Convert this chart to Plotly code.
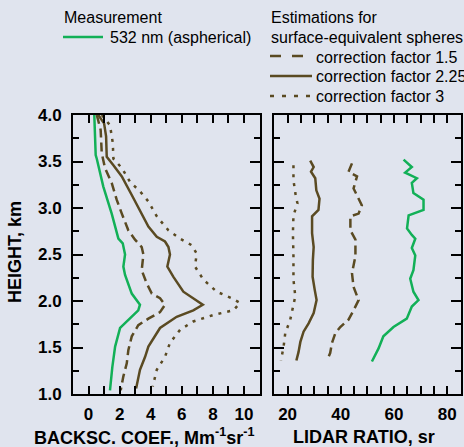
import plotly.graph_objects as go

# ---------------- data ----------------
# Backscatter coefficient (Mm^-1 sr^-1) vs height (km)
bsc_meas_h = [4.0, 3.57, 3.53, 3.23, 2.94, 2.67, 2.62, 2.50, 2.37, 2.28, 2.08, 1.96, 1.90, 1.81, 1.71, 1.51, 1.29, 1.04]
bsc_meas = [0.37, 0.46, 0.53, 0.95, 1.49, 1.92, 2.20, 2.35, 2.24, 2.35, 2.78, 3.31, 3.20, 2.67, 2.03, 1.71, 1.53, 1.38]

bsc_cf15_h = [4.0, 3.84, 3.59, 3.43, 3.27, 3.09, 2.94, 2.76, 2.66, 2.58, 2.50, 2.33, 2.19, 2.08, 2.03, 1.96, 1.88, 1.81, 1.74, 1.62, 1.47, 1.33, 1.19, 1.04]
bsc_cf15 = [0.53, 0.78, 0.85, 1.06, 1.49, 1.81, 2.14, 2.56, 2.99, 3.42, 3.53, 3.42, 3.74, 4.07, 4.60, 4.92, 4.60, 3.85, 3.20, 2.78, 2.56, 2.46, 2.24, 2.07]

bsc_cf225_h = [4.0, 3.91, 3.77, 3.55, 3.46, 3.34, 3.14, 3.01, 2.80, 2.69, 2.64, 2.58, 2.50, 2.37, 2.26, 2.10, 2.03, 1.96, 1.90, 1.83, 1.71, 1.63, 1.51, 1.40, 1.26, 1.06]
bsc_cf225 = [0.63, 1.00, 1.13, 1.17, 1.60, 2.14, 2.78, 3.20, 3.85, 4.39, 4.92, 5.14, 5.24, 5.07, 5.46, 6.10, 6.74, 7.35, 6.74, 5.67, 4.60, 4.28, 3.85, 3.64, 3.31, 3.06]

bsc_cf3_h = [4.0, 3.89, 3.70, 3.53, 3.43, 3.28, 3.18, 3.07, 2.91, 2.76, 2.67, 2.60, 2.51, 2.37, 2.23, 2.10, 2.03, 1.98, 1.90, 1.85, 1.78, 1.69, 1.55, 1.40, 1.26, 1.08]
bsc_cf3 = [0.85, 1.38, 1.56, 1.60, 2.14, 2.67, 3.31, 3.85, 4.39, 5.14, 5.89, 6.64, 6.96, 6.85, 7.39, 8.25, 9.21, 9.75, 9.32, 8.03, 6.74, 5.89, 5.24, 4.92, 4.39, 4.13]

# Lidar ratio (sr) vs height (km)
lr_meas_h = [3.52, 3.44, 3.38, 3.32, 3.27, 3.16, 3.09, 2.98, 2.92, 2.78, 2.71, 2.67, 2.57, 2.49, 2.33, 2.24, 2.10, 2.01, 1.94, 1.81, 1.72, 1.62, 1.49, 1.35]
lr_meas = [63.6, 66.7, 64.2, 68.6, 66.7, 67.3, 71.1, 71.1, 65.5, 64.9, 66.7, 68.0, 66.7, 68.0, 67.3, 66.1, 67.3, 69.2, 66.7, 64.8, 59.8, 56.0, 54.2, 51.7]

lr_cf15_h = [3.48, 3.39, 3.34, 3.21, 3.10, 3.03, 2.94, 2.91, 2.76, 2.66, 2.48, 2.30, 2.15, 2.05, 2.01, 1.90, 1.80, 1.72, 1.65, 1.55, 1.44, 1.36]
lr_cf15 = [44.2, 42.9, 46.1, 44.8, 46.7, 47.9, 46.7, 43.6, 43.6, 45.5, 45.5, 44.2, 44.8, 46.1, 46.7, 44.8, 42.9, 39.8, 37.9, 36.7, 36.0, 34.8]

lr_cf225_h = [3.51, 3.44, 3.39, 3.32, 3.19, 3.10, 2.98, 2.91, 2.73, 2.58, 2.44, 2.26, 2.12, 2.01, 1.87, 1.76, 1.67, 1.56, 1.45, 1.36]
lr_cf225 = [28.5, 29.8, 28.8, 30.4, 30.8, 32.0, 31.6, 29.2, 29.2, 29.8, 29.5, 29.4, 30.2, 30.9, 29.8, 27.9, 26.0, 24.8, 24.1, 23.3]

lr_cf3_h = [3.46, 3.30, 3.16, 3.05, 2.92, 2.73, 2.48, 2.23, 2.05, 1.97, 1.80, 1.65, 1.51, 1.36]
lr_cf3 = [22.2, 22.2, 22.9, 23.7, 22.2, 22.0, 22.2, 22.2, 22.9, 22.2, 21.0, 19.1, 18.5, 17.5]

bsc_ticks = [0, 2, 4, 6, 8, 10]
lr_ticks = [20, 40, 60, 80]
height_ticks = [1.0, 1.5, 2.0, 2.5, 3.0, 3.5, 4.0]

# ---------------- style ----------------
W, H = 464, 447
BG = "#e0e4ee"
GREEN = "#12b057"
BROWN = "#5a4a22"
LW = 2.5
DASH = "9px,5px"
DOT = "3px,6px"
FONT = "Liberation Sans"

def px(x):
    return x / W

def py(y):
    return 1 - y / H

fig = go.Figure()

series = [
    (bsc_meas, bsc_meas_h, lr_meas, lr_meas_h, GREEN, "solid"),
    (bsc_cf15, bsc_cf15_h, lr_cf15, lr_cf15_h, BROWN, DASH),
    (bsc_cf225, bsc_cf225_h, lr_cf225, lr_cf225_h, BROWN, "solid"),
    (bsc_cf3, bsc_cf3_h, lr_cf3, lr_cf3_h, BROWN, DOT),
]
for bx, bh, lx, lh, col, dash in series:
    fig.add_trace(go.Scatter(x=bx, y=bh, mode="lines", xaxis="x", yaxis="y",
                             line=dict(color=col, width=LW, dash=dash), showlegend=False))
    fig.add_trace(go.Scatter(x=lx, y=lh, mode="lines", xaxis="x2", yaxis="y2",
                             line=dict(color=col, width=LW, dash=dash), showlegend=False))

tickfont = dict(family=FONT, size=17, color="black", weight="bold")
common_x = dict(showgrid=False, zeroline=False, showline=True, linewidth=2, linecolor="black",
                mirror="ticks", ticks="inside", ticklen=8, tickwidth=2, tickcolor="black",
                tickfont=tickfont, fixedrange=True, ticklabelstandoff=4, automargin=False)
common_y = dict(showgrid=False, zeroline=False, showline=True, linewidth=2, linecolor="black",
                mirror="ticks", ticks="inside", ticklen=10, tickwidth=2, tickcolor="black",
                tickfont=tickfont, range=[1, 4], fixedrange=True, automargin=False,
                minor=dict(dtick=0.25, ticks="inside", ticklen=6, tickwidth=2, tickcolor="black"))

ydom = [py(394), py(115)]
fig.update_layout(
    template="none",
    width=W, height=H,
    margin=dict(l=0, r=0, t=0, b=0, autoexpand=False),
    paper_bgcolor=BG, plot_bgcolor=BG,
    font=dict(family=FONT, color="black"),
    xaxis=dict(domain=[px(73), px(259.5)], range=[-1, 11], tickvals=bsc_ticks, anchor="y",
               minor=dict(dtick=1, tick0=0, ticks="inside", ticklen=8, tickwidth=2, tickcolor="black"),
               **common_x),
    yaxis=dict(domain=ydom, anchor="x", tickvals=height_ticks, tickformat=".1f",
               ticklabelstandoff=6, **common_y),
    xaxis2=dict(domain=[px(274.3), px(460.5)], range=[15, 85], tickvals=lr_ticks, anchor="y2",
                minor=dict(dtick=5, tick0=0, ticks="inside", ticklen=8, tickwidth=2, tickcolor="black"),
                **common_x),
    yaxis2=dict(domain=ydom, anchor="x2", tickvals=height_ticks, showticklabels=False, **common_y),
)

title_font = dict(family=FONT, size=18, color="black", weight="bold")
legend_font = dict(family=FONT, size=16, color="black")

annotations = [
    dict(text="HEIGHT, km", x=px(15), y=py(252), textangle=-90, font=title_font),
    dict(text="BACKSC. COEF., Mm<sup>-1</sup>sr<sup>-1</sup>", x=px(143.5), y=py(436), font=title_font),
    dict(text="LIDAR RATIO, sr", x=px(364), y=py(437), font=title_font),
    dict(text="Measurement", x=px(62), y=py(17), xanchor="left", font=legend_font),
    dict(text="532 nm (aspherical)", x=px(108), y=py(37), xanchor="left", font=legend_font),
    dict(text="Estimations for", x=px(269), y=py(17), xanchor="left", font=legend_font),
    dict(text="surface-equivalent spheres", x=px(269), y=py(37), xanchor="left", font=legend_font),
    dict(text="correction factor 1.5", x=px(314), y=py(57), xanchor="left", font=legend_font),
    dict(text="correction factor 2.25", x=px(314), y=py(76), xanchor="left", font=legend_font),
    dict(text="correction factor 3", x=px(314), y=py(96), xanchor="left", font=legend_font),
]
for a in annotations:
    a.setdefault("xanchor", "center")
    fig.add_annotation(xref="paper", yref="paper", yanchor="middle", showarrow=False, **a)

legend_lines = [
    (63, 103, 37, GREEN, "solid"),
    (270, 303, 56, BROWN, "11px,11px"),
    (270, 312, 76, BROWN, "solid"),
    (270, 312, 96, BROWN, "4px,8px"),
]
for x0, x1, y0, col, dash in legend_lines:
    fig.add_shape(type="line", xref="paper", yref="paper", x0=px(x0), x1=px(x1), y0=py(y0), y1=py(y0),
                  line=dict(color=col, width=LW, dash=dash))

fig.write_html("out.html", config={"displayModeBar": False},
               post_script="document.body.style.margin='0';document.body.style.overflow='hidden';")
